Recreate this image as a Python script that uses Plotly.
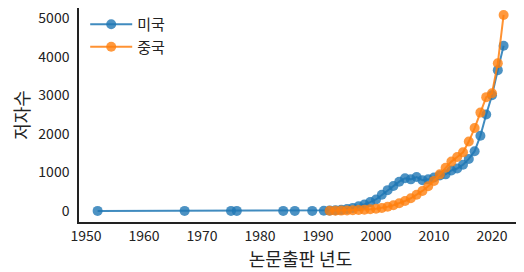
import plotly.graph_objects as go

us_years = [1952, 1967, 1975, 1976, 1984, 1986, 1989] + list(range(1991, 2023))
us_values = [3, 3, 3, 3, 3, 3, 3,
             5, 10, 20, 30, 50, 80, 120, 170, 230, 300,
             420, 540, 650, 760, 850, 820, 880, 800, 820, 870,
             920, 950, 1050, 1100, 1200, 1350, 1550, 1950, 2500, 3000,
             3650, 4280]

cn_years = list(range(1992, 2023))
cn_values = [5, 8, 10, 15, 20, 25, 35, 45, 60, 80,
             110, 150, 200, 260, 330, 420, 520, 640, 780, 950,
             1120, 1280, 1400, 1520, 1800, 2150, 2550, 2950, 3050, 3830,
             5080]

series_names = ["미국", "중국"]
colors = ["#1f77b4", "#ff7f0e"]
rgba = ["rgba(31,119,180,0.85)", "rgba(255,127,14,0.85)"]

x_ticks = [1950, 1960, 1970, 1980, 1990, 2000, 2010, 2020]
y_ticks = [0, 1000, 2000, 3000, 4000, 5000]

font_family = "Noto Sans CJK KR"

fig = go.Figure()
for name, xs, ys, c, ca in zip(series_names, [us_years, cn_years], [us_values, cn_values], colors, rgba):
    fig.add_trace(go.Scatter(
        x=xs, y=ys, name=name, mode="lines+markers",
        line=dict(color=ca, width=2),
        marker=dict(color=c, size=10, opacity=0.8, line=dict(width=0)),
    ))

# the page adds an 8px body margin, so the figure is sized to fit the window
fig.update_layout(
    width=516, height=264,
    margin=dict(l=71, r=2, t=0, b=50),
    plot_bgcolor="white", paper_bgcolor="white",
    font=dict(family=font_family, color="#222", size=14),
    showlegend=True,
    legend=dict(x=0.014, y=1.0, xanchor="left", yanchor="top",
                bgcolor="rgba(0,0,0,0)", font=dict(size=15),
                itemwidth=42, tracegroupgap=0),
)
fig.update_xaxes(
    range=[1948.79, 2025.17], tickvals=x_ticks, ticktext=[str(t) for t in x_ticks],
    showline=True, linecolor="#222", linewidth=1.5, showgrid=False, zeroline=False,
    ticks="", automargin=False, ticklabeloverflow="allow",
    title=dict(text="논문출판 년도", font=dict(size=18), standoff=0),
)
fig.update_yaxes(
    range=[-285, 5260], tickvals=y_ticks, ticktext=[str(t) for t in y_ticks],
    showline=True, linecolor="#222", linewidth=1.5, showgrid=False, zeroline=False,
    ticks="", ticklabelstandoff=5, automargin=False, ticklabeloverflow="allow",
    title=dict(text="저자수", font=dict(size=18), standoff=8),
)

fig.write_html("out.html")
